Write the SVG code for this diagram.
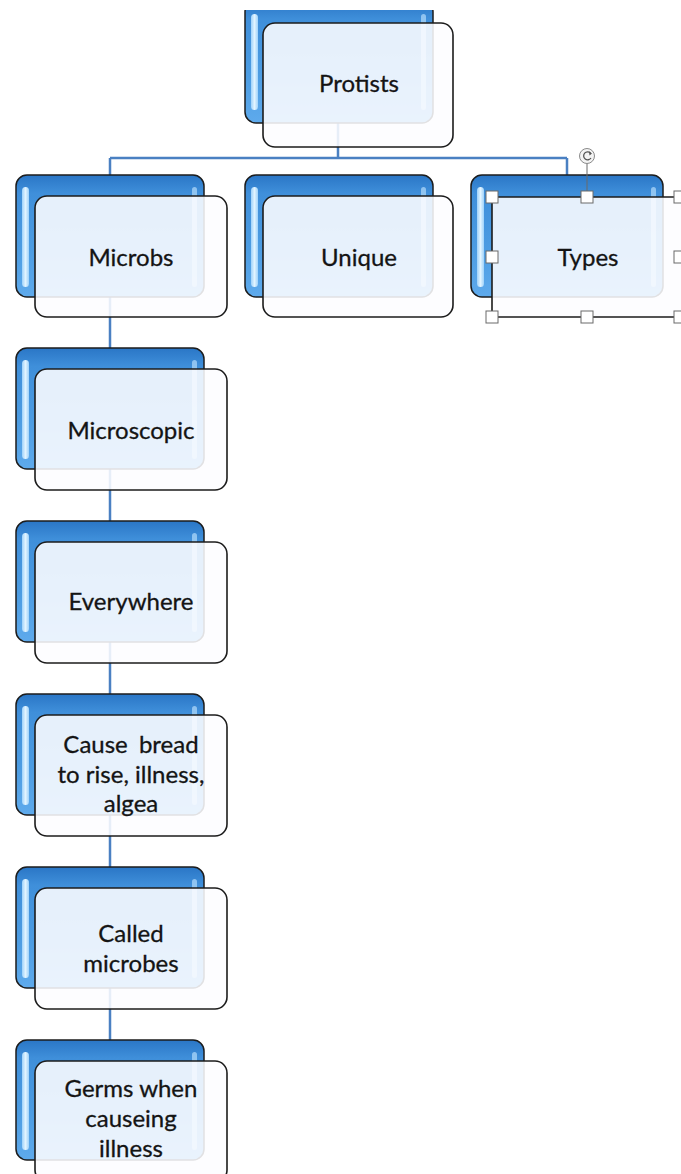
<svg xmlns="http://www.w3.org/2000/svg" width="681" height="1174" viewBox="0 0 681 1174">
<style>
.back{fill:url(#blueGrad);stroke:#1c1c1c;stroke-width:1.5}
.shine{fill:url(#shineGrad)}
.shine2{fill:#b3dcfb;opacity:0.7}
.front{fill:#fdfdff;fill-opacity:0.88;stroke:#1c1c1c;stroke-width:1.6}
.lbl{font-family:Lato,"Noto Sans",sans-serif;font-size:24px;fill:#141414;stroke:#141414;stroke-width:0.3;text-anchor:middle}
.conn{stroke:#4a80c2;stroke-width:2.5;fill:none}
.handle{fill:#ffffff;stroke:#6a6a6a;stroke-width:1}
</style>
<defs>
<linearGradient id="blueGrad" x1="0" y1="0" x2="0" y2="1">
<stop offset="0" stop-color="#2a76c6"/>
<stop offset="0.15" stop-color="#3f8fda"/>
<stop offset="0.6" stop-color="#4c9ce2"/>
<stop offset="1" stop-color="#5eaaec"/>
</linearGradient>
<linearGradient id="shineGrad" x1="0" y1="0" x2="1" y2="0">
<stop offset="0" stop-color="#9fd2fa"/>
<stop offset="0.5" stop-color="#e2f4ff"/>
<stop offset="1" stop-color="#9fd2fa"/>
</linearGradient>
<clipPath id="topClip"><rect x="0" y="10" width="681" height="1164"/></clipPath>
</defs>
<rect width="681" height="1174" fill="#ffffff"/>
<g id="connectors">
<path class="conn" d="M338 120 V158 M110 158 H567 M110 158 V175 M567 158 V175"/>
<path class="conn" d="M110 290 V1045"/>
</g>
<g id="protists" clip-path="url(#topClip)">
<rect class="back" x="245" y="1" width="188" height="122" rx="11"/>
<rect class="shine" x="251" y="14" width="7" height="96" rx="3.5"/>
<rect class="shine2" x="421" y="14" width="5" height="96" rx="2.5"/>
<rect class="front" x="263" y="23" width="190" height="124" rx="12"/>
<text class="lbl" x="359" y="92">Protists</text>
</g>
<g id="microbs">
<rect class="back" x="16" y="175" width="188" height="122" rx="11"/>
<rect class="shine" x="22" y="187" width="7" height="100" rx="3.5"/>
<rect class="shine2" x="192" y="187" width="5" height="100" rx="2.5"/>
<rect class="front" x="35" y="196" width="192" height="121" rx="12"/>
<text class="lbl" x="131" y="266">Microbs</text>
</g>
<g id="unique">
<rect class="back" x="245" y="175" width="188" height="122" rx="11"/>
<rect class="shine" x="251" y="187" width="7" height="100" rx="3.5"/>
<rect class="shine2" x="421" y="187" width="5" height="100" rx="2.5"/>
<rect class="front" x="263" y="196" width="190" height="121" rx="12"/>
<text class="lbl" x="359" y="266">Unique</text>
</g>
<g id="types">
<rect class="back" x="471" y="175" width="192" height="122" rx="11"/>
<rect class="shine" x="477" y="187" width="7" height="100" rx="3.5"/>
<rect class="shine2" x="651" y="187" width="5" height="100" rx="2.5"/>
<rect class="front" x="492" y="197" width="192" height="120" rx="2"/>
<text class="lbl" x="588" y="266">Types</text>
<line x1="587" y1="163" x2="587" y2="192" stroke="#6a6a6a" stroke-width="1"/>
<circle cx="587" cy="156" r="7.5" fill="#f4f4f4" stroke="#8a8a8a" stroke-width="1"/>
<path d="M590.5 153 A4 4 0 1 0 591 158" fill="none" stroke="#555" stroke-width="1.3"/>
<path d="M589 151.5 L592 153.5 L589.5 155.5 Z" fill="#555"/>
<rect class="handle" x="486" y="191" width="12" height="12"/>
<rect class="handle" x="581" y="191" width="12" height="12"/>
<rect class="handle" x="674" y="191" width="12" height="12"/>
<rect class="handle" x="486" y="251" width="12" height="12"/>
<rect class="handle" x="674" y="251" width="12" height="12"/>
<rect class="handle" x="486" y="311" width="12" height="12"/>
<rect class="handle" x="581" y="311" width="12" height="12"/>
<rect class="handle" x="674" y="311" width="12" height="12"/>
</g>
<g id="microscopic">
<rect class="back" x="16" y="348" width="188" height="121" rx="11"/>
<rect class="shine" x="22" y="360" width="7" height="99" rx="3.5"/>
<rect class="shine2" x="192" y="360" width="5" height="99" rx="2.5"/>
<rect class="front" x="35" y="369" width="192" height="121" rx="12"/>
<text class="lbl" x="131" y="439">Microscopic</text>
</g>
<g id="everywhere">
<rect class="back" x="16" y="521" width="188" height="121" rx="11"/>
<rect class="shine" x="22" y="533" width="7" height="99" rx="3.5"/>
<rect class="shine2" x="192" y="533" width="5" height="99" rx="2.5"/>
<rect class="front" x="35" y="542" width="192" height="121" rx="12"/>
<text class="lbl" x="131" y="610">Everywhere</text>
</g>
<g id="cause">
<rect class="back" x="16" y="694" width="188" height="121" rx="11"/>
<rect class="shine" x="22" y="706" width="7" height="99" rx="3.5"/>
<rect class="shine2" x="192" y="706" width="5" height="99" rx="2.5"/>
<rect class="front" x="35" y="715" width="192" height="121" rx="12"/>
<text class="lbl" x="131" y="753" word-spacing="5">Cause bread</text>
<text class="lbl" x="131" y="783">to rise, illness,</text>
<text class="lbl" x="131" y="812">algea</text>
</g>
<g id="called">
<rect class="back" x="16" y="867" width="188" height="121" rx="11"/>
<rect class="shine" x="22" y="879" width="7" height="99" rx="3.5"/>
<rect class="shine2" x="192" y="879" width="5" height="99" rx="2.5"/>
<rect class="front" x="35" y="888" width="192" height="121" rx="12"/>
<text class="lbl" x="131" y="942">Called</text>
<text class="lbl" x="131" y="972">microbes</text>
</g>
<g id="germs">
<rect class="back" x="16" y="1040" width="188" height="120" rx="11"/>
<rect class="shine" x="22" y="1052" width="7" height="98" rx="3.5"/>
<rect class="shine2" x="192" y="1052" width="5" height="98" rx="2.5"/>
<rect class="front" x="35" y="1061" width="192" height="121" rx="12"/>
<text class="lbl" x="131" y="1097">Germs when</text>
<text class="lbl" x="131" y="1127">causeing</text>
<text class="lbl" x="131" y="1157">illness</text>
</g>
</svg>
